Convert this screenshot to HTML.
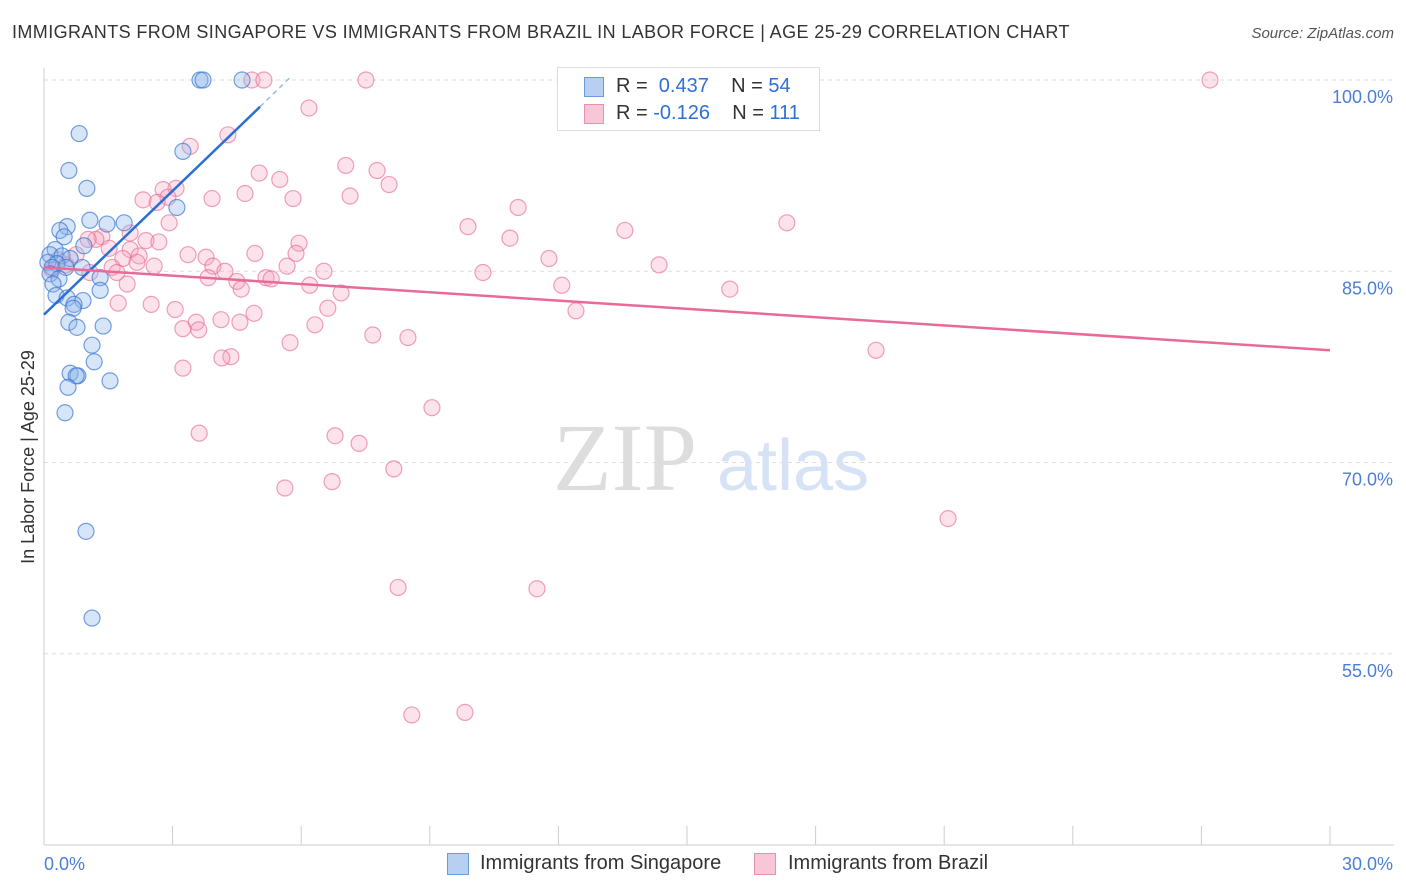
<!DOCTYPE html>
<html><head><meta charset="utf-8">
<style>
body{margin:0;background:#fff;font-family:"Liberation Sans",sans-serif;}
#wrap{position:relative;width:1406px;height:892px;overflow:hidden;}
.t{position:absolute;white-space:nowrap;}
</style></head>
<body>
<div id="wrap">
<div class="t" style="left:12px;top:22px;font-size:18px;color:#333;letter-spacing:0.4px;">IMMIGRANTS FROM SINGAPORE VS IMMIGRANTS FROM BRAZIL IN LABOR FORCE | AGE 25-29 CORRELATION CHART</div>
<div class="t" style="right:12px;top:25px;font-size:15px;color:#555;font-style:italic;">Source: ZipAtlas.com</div>
<svg id="svg" width="1406" height="892" style="position:absolute;left:0;top:0"></svg>
</div>
<script>
const yTicks=[100,85,70,55];
const yTickLabels=["100.0%","85.0%","70.0%","55.0%"];
const xLabels=["0.0%","30.0%"];
const blueX=[3.64,3.71,4.62,0.82,3.24,0.58,1.0,3.1,1.07,1.87,1.47,0.54,0.37,0.47,0.93,0.26,0.14,0.42,0.61,0.09,0.30,0.19,0.51,0.89,0.14,0.35,1.31,0.21,1.31,0.28,0.54,0.91,0.70,0.68,0.58,0.77,1.38,1.12,1.17,0.61,0.79,0.75,1.54,0.56,0.49,0.98,1.12];
const blueY=[100,100,100,95.8,94.4,92.9,91.5,90.0,89.0,88.8,88.7,88.5,88.2,87.7,87.0,86.7,86.3,86.2,86.0,85.7,85.6,85.3,85.3,85.3,84.8,84.4,84.5,84.0,83.5,83.1,82.9,82.7,82.4,82.1,81.0,80.6,80.7,79.2,77.9,77.0,76.8,76.8,76.4,75.9,73.9,64.6,57.8];
const pinkX=[27.2,4.85,5.13,7.51,6.18,4.29,3.41,7.04,7.77,5.02,5.5,8.05,3.08,2.78,4.69,2.89,7.14,3.92,5.81,2.31,2.64,11.06,17.33,2.92,9.89,13.55,2.01,1.35,1.21,1.03,2.38,2.68,10.87,5.95,2.01,1.52,4.92,3.36,3.78,5.88,0.75,2.22,1.84,11.78,2.17,2.57,3.94,5.67,14.35,1.59,4.22,6.53,10.24,1.07,1.70,3.83,5.18,5.30,4.5,1.94,6.2,12.08,4.6,16.0,6.93,1.73,2.5,3.06,6.62,12.41,4.9,4.13,4.57,3.55,3.24,3.61,6.32,7.67,8.49,5.74,19.41,4.36,4.15,3.24,9.05,3.62,6.79,7.35,8.16,5.62,6.72,21.09,8.26,11.5,8.58,9.82,0.33,0.51,0.19];
const pinkY=[100,100,100,100,97.8,95.7,94.8,93.3,92.9,92.7,92.2,91.8,91.5,91.4,91.1,90.8,90.9,90.7,90.7,90.6,90.4,90.0,88.8,88.8,88.5,88.2,88.0,87.7,87.5,87.5,87.4,87.3,87.6,87.2,86.7,86.8,86.4,86.3,86.1,86.4,86.3,86.2,86.0,86.0,85.7,85.4,85.4,85.4,85.5,85.3,85.0,85.0,84.9,84.9,84.9,84.5,84.5,84.4,84.2,84.0,83.9,83.9,83.6,83.6,83.3,82.5,82.4,82.0,82.1,81.9,81.7,81.2,81.0,81.0,80.5,80.4,80.8,80.0,79.8,79.4,78.8,78.3,78.2,77.4,74.3,72.3,72.1,71.5,69.5,68.0,68.5,65.6,60.2,60.1,50.2,50.4,85.9,85.5,85.1];
const blueTrend=[[0,81.6],[5.04,97.9]];
const blueDash=[[5.04,97.9],[5.74,100.2]];
const pinkTrend=[[0,85.3],[30,78.8]];
const X=v=>44+v*1286/30, Y=v=>80+(100-v)*12.75;
const svg=document.getElementById('svg');const NS='http://www.w3.org/2000/svg';
function mk(t,a){const e=document.createElementNS(NS,t);for(const k in a)e.setAttribute(k,a[k]);svg.appendChild(e);return e;}
yTicks.forEach((v,i)=>{
 const g=mk('line',{x1:44,x2:1394,y1:Y(v),y2:Y(v),stroke:'#ddd','stroke-dasharray':'4,4'});
 
 
 const t=mk('text',{x:1393,y:Y(v)+23,'text-anchor':'end','font-size':18,fill:'#4a7fd6','font-family':'Liberation Sans'});
 t.textContent=yTickLabels[i];
 
 
});
const ax=mk('line',{x1:44,x2:44,y1:68,y2:845,stroke:'#ccc'});


const bx=mk('line',{x1:44,x2:1394,y1:845,y2:845,stroke:'#ccc'});


for(let i=1;i<=10;i++){const tk=mk('line',{x1:X(i*3),x2:X(i*3),y1:826,y2:845,stroke:'#ccc'});
 
 }
[[0,'start',44],[1,'end',1393]].forEach(([i,a,x])=>{const t=mk('text',{x:x,y:870,'text-anchor':a,'font-size':18,fill:'#4a7fd6','font-family':'Liberation Sans'});t.textContent=xLabels[i];
 
 });
const yt=mk('text',{x:34,y:457,transform:'rotate(-90 34 457)','text-anchor':'middle','font-size':18,fill:'#333','font-family':'Liberation Sans'});
yt.textContent='In Labor Force | Age 25-29';


const w1=mk('text',{x:553,y:490,'font-size':96,fill:'#ddd','font-family':'Liberation Serif'});w1.textContent='ZIP';


const w2=mk('text',{x:717,y:490,'font-size':72,fill:'#d6e2f5','font-family':'Liberation Sans'});w2.textContent='atlas';


pinkX.forEach((v,i)=>{const c=mk('circle',{cx:X(v),cy:Y(pinkY[i]),r:8,fill:'rgba(244,160,190,0.3)',stroke:'rgba(232,110,150,0.65)','stroke-width':1.2});
 
 });
blueX.forEach((v,i)=>{const c=mk('circle',{cx:X(v),cy:Y(blueY[i]),r:8,fill:'rgba(140,180,235,0.35)',stroke:'rgba(60,120,210,0.7)','stroke-width':1.2});
 
 });
const l1=mk('line',{x1:X(blueTrend[0][0]),y1:Y(blueTrend[0][1]),x2:X(blueTrend[1][0]),y2:Y(blueTrend[1][1]),stroke:'#2b6fd6','stroke-width':2.5});


const l2=mk('line',{x1:X(blueDash[0][0]),y1:Y(blueDash[0][1]),x2:X(blueDash[1][0]),y2:Y(blueDash[1][1]),stroke:'#9bbbe8','stroke-width':1.5,'stroke-dasharray':'5,4'});


const l3=mk('line',{x1:X(pinkTrend[0][0]),y1:Y(pinkTrend[0][1]),x2:X(pinkTrend[1][0]),y2:Y(pinkTrend[1][1]),stroke:'#e86a98','stroke-width':2.5});


</script>
<div style="position:absolute;left:557px;top:67px;width:261px;height:62px;border:1px solid #ddd;background:#fff;font-size:20px;color:#333;">
 <div style="position:absolute;left:26px;top:9px;width:18px;height:18px;background:#b7d0f2;border:1px solid #6a9be0;"></div>
 <div class="t" style="left:58px;top:7px;">R = &nbsp;<span style="color:#2f6fd6">0.437</span> &nbsp;&nbsp;&nbsp;N = <span style="color:#2f6fd6">54</span></div>
 <div style="position:absolute;left:26px;top:36px;width:18px;height:18px;background:#f8c6d6;border:1px solid #e890b0;"></div>
 <div class="t" style="left:58px;top:34px;">R = <span style="color:#2f6fd6">-0.126</span> &nbsp;&nbsp;&nbsp;N = <span style="color:#2f6fd6">111</span></div>
</div>
<div style="position:absolute;left:447px;top:852px;font-size:20px;color:#333;">
 <div style="position:absolute;left:0;top:1px;width:20px;height:20px;background:#b7d0f2;border:1px solid #6a9be0;"></div>
 <div class="t" style="left:33px;top:0;">Immigrants from Singapore</div>
 <div style="position:absolute;left:307px;top:1px;width:20px;height:20px;background:#f8c6d6;border:1px solid #e890b0;"></div>
 <div class="t" style="left:341px;top:0;">Immigrants from Brazil</div>
</div>
</body></html>
